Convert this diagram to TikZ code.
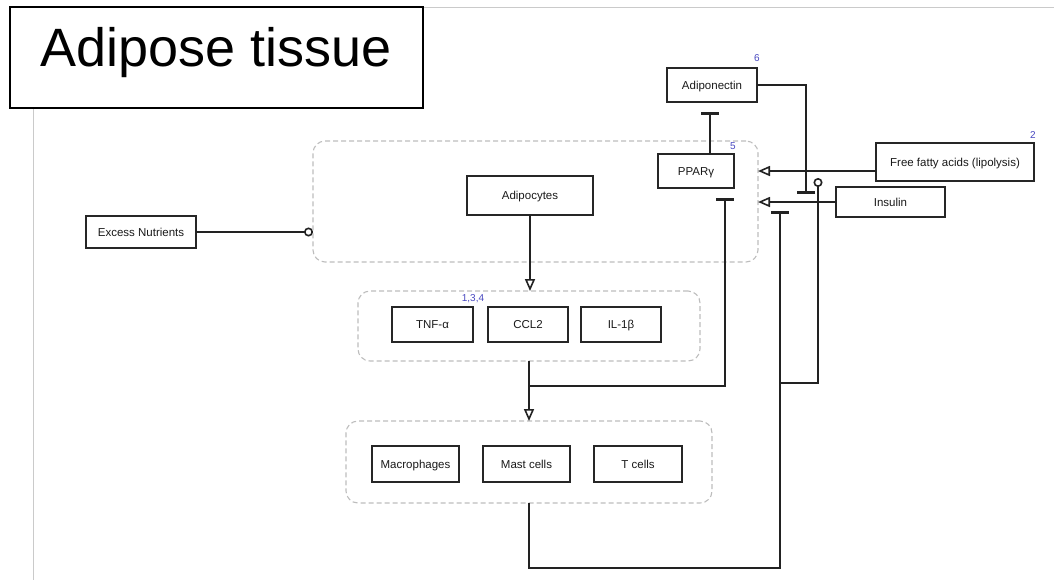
\documentclass[tikz,border=0pt]{standalone}
\usepackage{fontspec}
\setmainfont{Liberation Sans}
\usetikzlibrary{arrows.meta}
\definecolor{numblue}{HTML}{4848C0}
\definecolor{groupgray}{HTML}{BDBDBD}
\definecolor{framegray}{HTML}{CACACA}
\definecolor{linecol}{HTML}{222222}
\begin{document}
\begin{tikzpicture}[x=1pt,y=-1pt,
  box/.style={draw=black!85, line width=1.8pt, inner sep=0pt, outer sep=0pt,
    text height=10pt, text depth=2pt, text=black!90,
    font=\fontsize{11.5}{13}\selectfont},
  group/.style={draw=groupgray, line width=1.1pt, dash pattern=on 5pt off 3pt,
    rounded corners=12pt, inner sep=0pt, outer sep=0pt},
  num/.style={text=numblue, font=\fontsize{10}{11}\selectfont, inner sep=0pt},
  conn/.style={draw=linecol, line width=1.6pt},
  act/.style={conn, -{Triangle[open, length=12pt, width=10pt, fill=white]}},
  inh/.style={conn, -{Bar[width=18pt, line width=3pt]}},
  cat/.style={conn, -{Circle[open, length=9pt, fill=white]}}
]
\useasboundingbox (0,0) rectangle (1054,582);
% page frame lines
\draw[framegray, line width=1pt] (423,7) -- (1054,7);
\draw[framegray, line width=1pt] (33,108) -- (33,580);
% title
\node[draw=black, line width=1.8pt, minimum width=413pt, minimum height=101pt,
  inner sep=0pt, text depth=21pt, font=\fontsize{54}{60}\selectfont]
  (title) at (216.5,57.5) {Adipose tissue};
% groups
\node[group, minimum width=445pt, minimum height=121pt] (g1) at (535.5,201.5) {};
\node[group, minimum width=342pt, minimum height=70pt] (g2) at (529,326) {};
\node[group, minimum width=366pt, minimum height=82pt] (g3) at (529,462) {};
% boxes
\node[box, minimum width=90pt, minimum height=34pt] (adipon) at (712,85) {Adiponectin};
\node[box, minimum width=76pt, minimum height=34pt] (ppar) at (696,171) {PPARγ};
\node[box, minimum width=158pt, minimum height=38pt] (ffa) at (955,162) {Free fatty acids (lipolysis)};
\node[box, minimum width=109pt, minimum height=30pt] (insulin) at (890.5,202) {Insulin};
\node[box, minimum width=126pt, minimum height=39pt] (adipo) at (530,195.5) {Adipocytes};
\node[box, minimum width=110pt, minimum height=32pt] (excess) at (141,232) {Excess Nutrients};
\node[box, minimum width=81pt, minimum height=35pt] (tnf) at (432.5,324.5) {TNF-α};
\node[box, minimum width=80pt, minimum height=35pt] (ccl) at (528,324.5) {CCL2};
\node[box, minimum width=80pt, minimum height=35pt] (il) at (621,324.5) {IL-1β};
\node[box, minimum width=87pt, minimum height=36pt] (macro) at (415.5,464) {Macrophages};
\node[box, minimum width=87pt, minimum height=36pt] (mast) at (526.5,464) {Mast cells};
\node[box, minimum width=88pt, minimum height=36pt] (tcell) at (638,464) {T cells};
% reference numbers
\node[num] (n6) at (757,58) {6};
\node[num] (n5) at (733,146) {5};
\node[num] (n2) at (1033,135) {2};
\node[num] (n134) at (473,299) {1,3,4};
% free ends
\coordinate (adbar) at (710,112);
\coordinate (adinh) at (806,194);
\coordinate (pparbar) at (725,198);
\coordinate (insbar) at (780,211);
\coordinate (ffacirc) at (818,178);
% connectors
\draw[cat] (excess.east) -- (excess.east -| g1.west);
\draw[act] (adipo.south) -- (adipo.south |- g2.north);
\draw[act] (g2.south) -- (g2.south |- g3.north);
\draw[inh] (g2.south) -- ++(0,25) -| (pparbar);
\draw[inh] (g3.south) -- ++(0,65) -| (insbar);
\draw[cat] (g3.south) -- ++(0,65) -| (780,383) -| (ffacirc);
\draw[inh] (ppar.north -| adbar) -- (adbar);
\draw[inh] (adipon.east) -| (adinh);
\draw[act] (ffa.west |- ppar) -- (g1.east |- ppar);
\draw[act] (insulin.west) -- (insulin.west -| g1.east);
\end{tikzpicture}
\end{document}
